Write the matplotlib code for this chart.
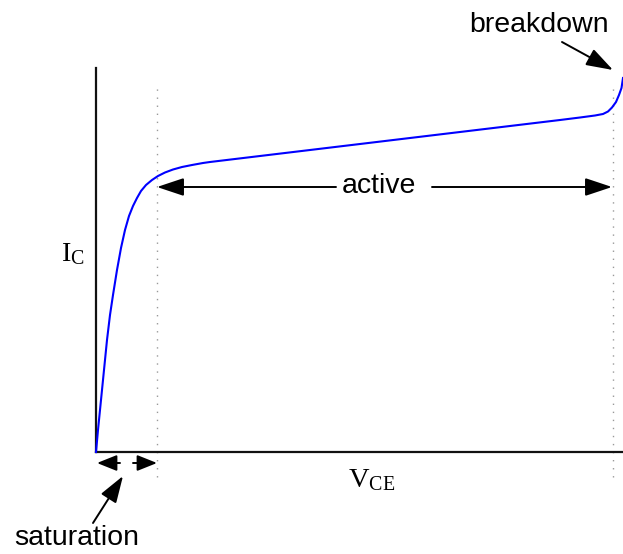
import matplotlib
matplotlib.use("Agg")
import matplotlib.pyplot as plt

plt.rcParams['mathtext.fontset'] = 'custom'
plt.rcParams['mathtext.rm'] = 'Liberation Serif'
plt.rcParams['mathtext.it'] = 'Liberation Serif:italic'

# Characteristic curve (arbitrary units)
vce = [0, 2, 5, 8, 11, 14, 17, 21, 25, 29, 33, 37, 41, 45, 50, 56, 62, 69, 77, 86,
       96, 107, 114, 464, 484, 499, 507, 512, 516, 520, 523, 525.5, 527]
ic = [0, 22, 52, 82, 112, 137, 157, 182, 204, 222, 236, 246, 254, 261, 267, 272,
      276, 279.5, 282.5, 285, 287, 289, 290, 332, 334.5, 336.5, 338, 340.5, 344.5,
      350, 357, 364, 374]

# region boundaries
sat_edge = 61
bd_edge = 517

labels = {"active": "active", "breakdown": "breakdown", "saturation": "saturation",
          "ic": r"$\mathrm{I}_{\mathrm{C}}$", "vce": r"$\mathrm{V}_{\mathrm{CE}}$"}

W, H = 623, 554
fig = plt.figure(figsize=(W / 100, H / 100), dpi=100)
ax = fig.add_axes([96 / W, 102 / H, 527 / W, 384 / H])
ax.set_xlim(0, 527)
ax.set_ylim(0, 384)
for s in ("top", "right"):
    ax.spines[s].set_visible(False)
for s in ("left", "bottom"):
    ax.spines[s].set_linewidth(1.6)
    ax.spines[s].set_color("#111111")
ax.set_xticks([])
ax.set_yticks([])

# dotted region boundaries
for x in (sat_edge, bd_edge):
    ax.plot([x, x], [-25, 369], color="#999999", lw=1.0, linestyle=(0, (1, 4.8)),
            clip_on=False, zorder=1)

# curve
ax.plot(vce, ic, color="#0000ff", lw=1.5, clip_on=False, zorder=3,
        solid_joinstyle="round")

fs = 20.5
sans = "Liberation Sans"
arrow = dict(arrowstyle="-|>,head_length=0.75,head_width=0.25", color="black",
             lw=1.4, shrinkA=0, shrinkB=0, mutation_scale=22)

# active arrows
ax.annotate("", xy=(sat_edge, 265), xytext=(240, 265), arrowprops=arrow,
            annotation_clip=False)
ax.annotate("", xy=(bd_edge - 1, 265), xytext=(336, 265), arrowprops=arrow,
            annotation_clip=False)
ax.text(283, 259, labels["active"], ha="center", va="baseline", fontsize=fs,
        family=sans)

# saturation arrows
sarrow = dict(arrow, arrowstyle="-|>,head_length=0.55,head_width=0.22")
ax.annotate("", xy=(1, -11), xytext=(24, -11), arrowprops=sarrow,
            annotation_clip=False)
ax.annotate("", xy=(sat_edge, -11), xytext=(37, -11), arrowprops=sarrow,
            annotation_clip=False)
ax.annotate("", xy=(27, -24), xytext=(-3, -71), arrowprops=arrow,
            annotation_clip=False)
ax.text(-19, -93, labels["saturation"], ha="center", va="baseline", fontsize=fs,
        family=sans)

# breakdown
ax.annotate("", xy=(517, 382), xytext=(466, 410), arrowprops=arrow,
            annotation_clip=False)
ax.text(443, 420, labels["breakdown"], ha="center", va="baseline", fontsize=fs,
        family=sans)

# axis labels
ax.text(-23, 191, labels["ic"], ha="center", va="baseline", fontsize=fs)
ax.text(275.5, -35, labels["vce"], ha="center", va="baseline", fontsize=fs)

fig.savefig("out.png", dpi=100)
